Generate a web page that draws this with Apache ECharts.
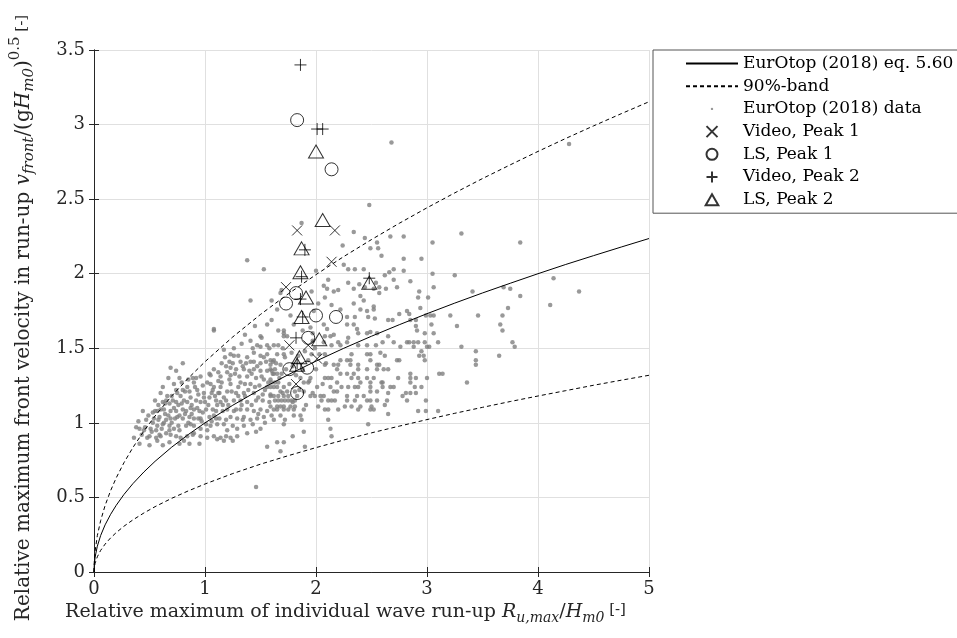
<!DOCTYPE html>
<html>
<head>
<meta charset="utf-8">
<script src="https://cdn.jsdelivr.net/npm/echarts@6/dist/echarts.min.js"></script>
<style>
html, body { margin: 0; padding: 0; background: #fff; }
#chart { width: 957px; height: 638px; }
</style>
</head>
<body>
<div id="chart"></div>
<script>
// curves (eq. 5.60 and the 90% band)
var curveX = [0, 0.002, 0.01, 0.03, 0.06, 0.1, 0.15, 0.2, 0.27, 0.35, 0.45, 0.55, 0.7, 0.85, 1,
    1.25, 1.5, 1.75, 2, 2.25, 2.5, 2.75, 3, 3.25, 3.5, 3.75, 4, 4.25, 4.5, 4.75, 5]
var eqY = [0, 0.045, 0.100, 0.173, 0.245, 0.316, 0.387, 0.447, 0.520, 0.592, 0.671, 0.742, 0.837, 0.922, 1.000,
    1.118, 1.225, 1.323, 1.414, 1.500, 1.581, 1.658, 1.732, 1.803, 1.871, 1.936, 2.000, 2.062, 2.121, 2.179, 2.236]
var bandUpY = [0, 0.063, 0.141, 0.244, 0.345, 0.446, 0.546, 0.631, 0.733, 0.834, 0.946, 1.046, 1.180, 1.300, 1.410,
    1.576, 1.727, 1.865, 1.994, 2.115, 2.229, 2.338, 2.442, 2.542, 2.638, 2.730, 2.820, 2.907, 2.991, 3.073, 3.153]
var bandLowY = [0, 0.026, 0.059, 0.102, 0.145, 0.187, 0.229, 0.264, 0.307, 0.349, 0.396, 0.438, 0.494, 0.544, 0.590,
    0.660, 0.723, 0.780, 0.834, 0.885, 0.933, 0.978, 1.022, 1.064, 1.104, 1.143, 1.180, 1.216, 1.252, 1.286, 1.319]

// EurOtop (2018) data, grey dots
var dotsLeft = [
    [1.08,1.62],[1.41,1.55],[1.47,1.52],[1.50,1.51],[1.56,1.52],[1.50,1.58],[1.17,1.49],[1.44,1.47],[1.50,1.45],[1.56,1.46],
    [1.61,1.41],[1.23,1.46],[1.26,1.45],[1.22,1.41],[1.32,1.41],[1.37,1.40],[1.41,1.41],[1.44,1.41],[1.50,1.40],[1.55,1.41],
    [1.59,1.39],[0.69,1.37],[1.08,1.36],[1.12,1.34],[1.19,1.38],[1.23,1.37],[1.28,1.36],[1.35,1.36],[1.40,1.35],[1.44,1.36],
    [1.50,1.35],[1.56,1.35],[1.61,1.33],[0.77,1.30],[0.85,1.29],[0.89,1.30],[0.96,1.31],[1.05,1.32],[1.14,1.31],[1.23,1.32],
    [1.31,1.31],[1.38,1.31],[1.46,1.30],[1.53,1.29],[1.59,1.29],[0.79,1.27],[0.90,1.27],[1.02,1.27],[1.08,1.24],[1.14,1.24],
    [1.23,1.26],[1.32,1.27],[1.41,1.26],[1.49,1.25],[1.56,1.24],[0.74,1.22],[0.86,1.21],[0.93,1.22],[0.99,1.20],[1.07,1.22],
    [1.13,1.20],[1.20,1.21],[1.28,1.20],[1.35,1.20],[1.44,1.20],[1.52,1.19],[1.59,1.19],[0.75,1.20],[0.62,1.14],[0.65,1.15],
    [0.68,1.13],[0.71,1.15],[0.74,1.14],[0.81,1.15],[0.87,1.17],[0.92,1.15],[0.96,1.14],[1.04,1.17],[1.10,1.15],[1.14,1.14],
    [1.19,1.15],[1.26,1.15],[1.32,1.15],[1.38,1.14],[1.46,1.15],[1.52,1.15],[1.58,1.14],[0.53,1.07],[0.57,1.08],[0.60,1.09],
    [0.63,1.09],[0.69,1.08],[0.74,1.08],[0.80,1.09],[0.83,1.08],[0.87,1.10],[0.90,1.09],[0.95,1.08],[1.01,1.09],[1.07,1.09],
    [1.10,1.08],[1.16,1.08],[1.20,1.09],[1.26,1.08],[1.32,1.09],[1.38,1.09],[1.44,1.08],[1.50,1.09],[1.56,1.08],[0.54,1.03],
    [0.59,1.04],[0.65,1.02],[0.69,1.03],[0.75,1.04],[0.80,1.03],[0.86,1.04],[0.90,1.03],[0.96,1.03],[1.04,1.04],[1.08,1.05],
    [1.13,1.03],[1.19,1.02],[1.23,1.04],[1.29,1.03],[1.35,1.04],[1.41,1.02],[1.47,1.03],[1.53,1.04],[0.41,0.96],[0.45,0.95],
    [0.51,0.96],[0.57,0.98],[0.62,0.99],[0.68,0.98],[0.72,0.96],[0.77,0.95],[0.83,0.98],[0.87,0.99],[0.90,0.98],[0.96,0.96],
    [1.01,0.99],[1.05,0.98],[1.11,0.99],[1.17,0.99],[1.25,0.98],[1.29,0.96],[1.35,0.98],[1.43,0.99],[1.50,0.96],[0.50,0.91],
    [0.56,0.90],[0.60,0.91],[0.65,0.93],[0.69,0.92],[0.74,0.91],[0.78,0.90],[0.84,0.91],[0.90,0.93],[0.96,0.91],[1.02,0.90],
    [1.08,0.91],[1.14,0.90],[1.19,0.91],[1.23,0.90],[1.29,0.91],[1.38,0.93],[1.46,0.94],[0.41,0.86],[0.50,0.85],[0.57,0.88],
    [0.62,0.85],[0.68,0.87],[0.77,0.86],[0.81,0.88],[0.86,0.86],[0.95,0.86],[1.11,0.89],[1.17,0.88],[1.25,0.88],[1.56,0.84],
    [1.46,0.57],
    [0.60,1.20],[0.66,1.18],[0.72,1.26],[0.78,1.18],[0.84,1.24],[0.92,1.30],[0.98,1.25],[1.04,1.33],[0.70,1.00],[0.76,1.12],
    [0.82,1.06],[0.88,1.12],[0.94,1.19],[1.00,1.14],[1.06,1.20],[1.12,1.28],[0.64,1.06],[0.58,1.12],[0.53,1.00],[0.47,1.02],
    [0.44,1.08],[0.48,0.90],[0.56,0.95],[0.38,0.97],[0.36,0.90],[0.55,1.15],[0.62,1.24],[0.67,1.30],[0.74,1.35],[0.80,1.40],
    [1.18,1.44],[1.26,1.50],[1.33,1.53],[1.22,1.29],[1.30,1.24],[1.36,1.18],[1.42,1.12],[1.48,1.06],[1.54,1.00],[1.16,1.12],
    [1.10,1.03],[1.20,0.95],[1.28,1.09],[1.34,1.02]
]
var dotsDense = [
    [0.58,1.02],[0.61,0.96],[0.64,1.13],[0.67,1.05],[0.70,1.18],[0.73,1.03],[0.76,0.98],[0.79,1.13],[0.82,1.21],[0.85,1.00],
    [0.88,1.06],[0.91,1.24],[0.93,1.10],[0.97,1.01],[0.99,1.17],[1.03,1.12],[1.05,1.26],[1.09,1.18],[1.11,1.12],[1.15,1.27],
    [1.17,1.17],[1.21,1.12],[1.24,1.21],[1.27,1.33],[1.30,1.18],[1.33,1.12],[1.36,1.26],[1.39,1.22],[1.42,1.33],[1.45,1.24],
    [1.48,1.17],[1.51,1.31],[1.54,1.22],[1.57,1.27],[1.60,1.35],[1.25,1.40],[1.30,1.45],[1.34,1.38],[1.38,1.44],[1.43,1.50],
    [1.47,1.38],[1.53,1.44],[1.58,1.50],[1.20,1.34],[1.15,1.40],[1.12,1.20],[1.06,1.01],[1.02,0.95],[0.98,1.07],[0.94,1.03],
    [0.89,0.92],[0.84,1.14],[0.80,1.22],[0.77,1.05],[0.72,1.10],[0.68,0.95],[0.63,1.00],[0.59,0.92],[0.55,1.08],[0.52,0.94],
    [0.49,1.05],[0.46,0.97],[0.43,0.92],[0.40,1.01],
    [1.64,1.40],[1.67,1.30],[1.70,1.20],[1.73,1.36],[1.76,1.26],[1.79,1.14],[1.82,1.32],[1.85,1.22],[1.88,1.36],[1.91,1.12],
    [1.94,1.28],[1.97,1.20],[2.00,1.36],[2.03,1.46],[2.06,1.26],[2.09,1.40],[1.66,1.52],[1.72,1.44],[1.79,1.38],[1.86,1.30],
    [1.93,1.42],[1.99,1.50]
]
var dotsMid = [
    [1.71,1.60],[1.97,1.60],[2.38,1.60],[2.46,1.60],[2.55,1.60],[1.71,1.58],[2.08,1.58],[2.13,1.58],[2.28,1.54],
    [2.14,1.52],[2.22,1.52],[2.38,1.52],[2.46,1.52],[2.54,1.52],
    [1.65,1.46],[1.71,1.46],[1.96,1.46],[2.08,1.46],[2.32,1.46],[2.46,1.46],[2.49,1.46],
    [1.59,1.42],[1.62,1.42],[2.22,1.42],[2.28,1.42],[2.31,1.42],[2.49,1.42],
    [1.68,1.39],[2.08,1.39],[2.16,1.39],[2.20,1.39],[2.31,1.39],[2.38,1.39],[2.55,1.39],
    [1.59,1.36],[1.63,1.36],[2.19,1.36],[2.38,1.36],[2.46,1.36],[2.55,1.36],
    [1.62,1.33],[1.65,1.33],[1.69,1.33],[2.22,1.33],[2.28,1.33],[2.34,1.33],
    [1.95,1.30],[2.08,1.30],[2.11,1.30],[2.14,1.30],[2.32,1.30],[2.38,1.30],[2.46,1.30],[2.52,1.30],
    [1.60,1.27],[1.63,1.27],[1.66,1.27],[1.89,1.27],[1.93,1.27],[2.19,1.27],[2.40,1.27],[2.49,1.27],
    [1.59,1.24],[1.62,1.24],[1.65,1.24],[1.71,1.24],[2.01,1.24],[2.13,1.24],[2.23,1.24],[2.29,1.24],[2.35,1.24],[2.38,1.24],[2.49,1.24],
    [1.68,1.21],[1.74,1.21],[1.81,1.21],[1.89,1.21],[2.16,1.21],[2.19,1.21],[2.49,1.21],[2.55,1.21],
    [1.59,1.18],[1.62,1.18],[1.66,1.18],[1.71,1.18],[1.75,1.18],[1.83,1.18],[1.95,1.18],[1.99,1.18],[2.04,1.18],[2.07,1.18],[2.28,1.18],[2.37,1.18],[2.43,1.18],
    [1.63,1.15],[1.66,1.15],[1.69,1.15],[1.72,1.15],[1.75,1.15],[1.78,1.15],[1.81,1.15],[2.05,1.15],[2.11,1.15],[2.14,1.15],[2.17,1.15],[2.28,1.15],[2.35,1.15],[2.46,1.15],[2.49,1.15],[2.55,1.15],
    [1.59,1.11],[1.65,1.11],[1.68,1.11],[1.71,1.11],[1.77,1.11],[1.81,1.11],[2.02,1.11],[2.26,1.11],[2.32,1.11],[2.40,1.11],[2.50,1.11],
    [1.62,1.09],[1.65,1.09],[1.71,1.09],[1.75,1.09],[1.80,1.09],[1.89,1.09],[2.08,1.09],[2.11,1.09],[2.20,1.09],[2.38,1.09],[2.49,1.09],[2.52,1.09],
    [1.60,1.05],[1.68,1.05],[1.80,1.05],[1.86,1.05],[1.62,1.02],[1.72,1.02],[1.87,1.02],[2.11,1.02],
    [1.71,0.99],[2.47,0.99],[2.13,0.96],[1.89,0.94],[1.79,0.91],[2.14,0.91],[1.65,0.87],[1.71,0.87],[1.90,0.84],[1.68,0.81]
]
var dotsUpper = [
    [1.38,2.09],[1.53,2.03],[1.41,1.82],[1.08,1.63],[2.34,2.28],[2.44,2.24],[2.55,2.21],[2.24,2.19],[2.25,2.06],[2.11,1.96],
    [2.07,1.92],[2.20,1.89],[2.29,2.03],[2.35,2.03],[2.39,1.93],[2.44,1.91],[2.54,1.94],[1.60,1.82],[1.65,1.76],[1.69,1.89],
    [1.56,1.66],[1.60,1.69],[1.51,1.57],[1.45,1.65],[1.36,1.59],[2.14,1.79],[2.22,1.76],[2.34,1.80],[2.40,1.76],[2.46,1.75],
    [2.52,1.78],[2.47,1.71],[2.53,1.70],[2.28,1.71],[2.35,1.71],[2.28,1.66],[2.34,1.66],[2.37,1.63],[2.49,1.61],[2.29,1.57],
    [2.07,1.66],[2.10,1.63],[2.16,1.59],[2.20,1.54],[2.07,1.54],[1.77,1.72],[1.71,1.62],[1.87,2.34],[2.49,2.17],[2.43,2.03],
    [2.29,1.94],[2.34,1.90],[1.68,1.87],[2.10,1.90],[2.08,1.84],[2.16,1.88],[2.52,1.90],[2.40,1.85],[2.43,1.82],[2.52,1.76],
    [1.66,1.62],[1.74,1.58],[1.80,1.66],[1.95,1.64],[1.98,1.75],[2.02,1.80],[1.90,1.48],[1.97,1.55],[1.62,1.52],[1.70,1.50],
    [1.78,1.47],[1.84,1.45],[1.88,1.62],[1.96,1.88],[2.00,2.02],[2.48,2.46],[2.56,2.17]
]
var dotsRight = [
    [2.67,2.25],[2.79,2.25],[3.31,2.27],[3.05,2.21],[3.84,2.21],[2.59,2.12],[2.79,2.10],[2.95,2.10],[2.79,2.02],[2.70,2.03],
    [2.62,1.99],[2.66,2.01],[2.70,1.96],[3.05,2.00],[3.25,1.99],[2.85,1.95],[2.73,1.91],[2.57,1.91],[2.63,1.90],[3.06,1.91],
    [2.57,1.87],[2.93,1.88],[3.41,1.88],[4.14,1.97],[4.37,1.88],[3.69,1.91],[3.75,1.90],[2.92,1.84],[3.01,1.84],[3.84,1.85],
    [2.94,1.77],[4.11,1.79],[3.73,1.77],[2.82,1.75],[2.84,1.73],[2.75,1.73],[2.99,1.72],[3.03,1.72],[3.06,1.72],[3.21,1.72],
    [3.46,1.72],[3.68,1.72],[2.65,1.69],[2.69,1.69],[2.85,1.69],[2.90,1.69],[2.90,1.65],[3.04,1.66],[3.27,1.65],[3.66,1.66],
    [2.91,1.62],[3.68,1.62],[2.98,1.60],[3.06,1.60],[2.65,1.58],[2.60,1.54],[2.70,1.54],[2.82,1.54],[2.84,1.54],[2.88,1.54],
    [2.92,1.54],[2.98,1.54],[3.10,1.54],[3.77,1.54],[2.76,1.51],[2.88,1.51],[3.00,1.51],[3.02,1.51],[3.31,1.51],[3.79,1.51],
    [2.58,1.47],[2.62,1.45],[2.95,1.48],[2.93,1.45],[2.97,1.45],[3.44,1.48],[3.65,1.45],[2.73,1.42],[2.75,1.42],[2.98,1.42],
    [3.44,1.42],[3.44,1.39],[2.57,1.39],[2.61,1.36],[2.65,1.36],[3.11,1.33],[3.14,1.33],[2.85,1.33],[2.85,1.30],[2.74,1.30],
    [2.90,1.30],[3.00,1.30],[3.36,1.27],[2.59,1.27],[2.60,1.27],[2.85,1.27],[2.60,1.24],[2.67,1.24],[2.70,1.24],[2.89,1.24],
    [2.95,1.24],[2.65,1.20],[2.81,1.20],[2.85,1.20],[2.90,1.20],[2.78,1.18],[2.64,1.15],[2.82,1.15],[2.99,1.15],[2.62,1.12],
    [2.92,1.08],[2.99,1.08],[3.10,1.08],[2.65,1.06],[2.68,2.88],[4.28,2.87]
]

// measurements
var videoPeak1 = [[1.83,2.29],[2.17,2.29],[2.14,2.08],[1.73,1.91],[1.76,1.52],[1.93,1.52],[2.01,1.43],[1.82,1.26]]
var lsPeak1 = [[1.83,3.03],[2.14,2.70],[1.82,1.87],[1.73,1.80],[2.00,1.72],[2.18,1.71],[1.93,1.57],[1.76,1.36],[1.92,1.37],[1.83,1.20]]
var videoPeak2 = [[1.86,3.40],[2.01,2.97],[2.06,2.97],[1.90,2.16],[1.87,1.98],[1.86,1.83],[1.88,1.71],[1.82,1.57],[1.83,1.40],[2.48,1.97]]
var lsPeak2 = [[2.00,2.82],[2.06,2.36],[1.87,2.17],[1.86,2.01],[1.91,1.84],[1.87,1.71],[2.03,1.56],[1.85,1.44],[1.83,1.39],[2.48,1.94]]

var xTicks = [0, 1, 2, 3, 4, 5]
var yTicks = [0, 0.5, 1, 1.5, 2, 2.5, 3, 3.5]

var serif = 'DejaVu Serif'
var ink = '#262626'

function zip (xs, ys) {
    return xs.map(function (x, i) { return [x, ys[i]] })
}

var crossPath = 'path://M0,0L10,10M10,0L0,10'
var plusPath = 'path://M5,0L5,10M0,5L10,5'
var trianglePath = 'path://M5,0L10,8.7L0,8.7Z'
var dotIcon = 'path://M0,0L0,0M20,20L20,20M7.8,10a2.2,2.2 0 1,0 4.4,0a2.2,2.2 0 1,0 -4.4,0Z'

var myChart = echarts.init(document.getElementById('chart'))

var subStyle = { fontFamily: serif, fontStyle: 'italic', fontSize: 14, padding: [11, 0, 0, 0] }
var option = {
    backgroundColor: '#fff',
    animation: false,
    grid: {
        left: 94,
        right: 308,
        top: 50,
        bottom: 66,
        outerBoundsMode: 'none'
    },
    legend: {
        orient: 'vertical',
        left: 653,
        top: 50,
        padding: [5, 120, 5, 32],
        itemWidth: 52,
        itemHeight: 11,
        itemGap: 5.7,
        align: 'left',
        backgroundColor: '#fff',
        borderColor: '#555',
        borderWidth: 1,
        borderRadius: 0,
        textStyle: { fontFamily: serif, fontSize: 17, color: '#000' },
        data: [
            { name: 'EurOtop (2018) eq. 5.60', itemStyle: { opacity: 0 } },
            { name: '90%-band', itemStyle: { opacity: 0 } },
            { name: 'EurOtop (2018) data', icon: dotIcon },
            { name: 'Video, Peak 1' },
            { name: 'LS, Peak 1' },
            { name: 'Video, Peak 2' },
            { name: 'LS, Peak 2', icon: trianglePath }
        ]
    },
    xAxis: [{
        type: 'value',
        min: xTicks[0],
        max: xTicks[xTicks.length - 1],
        interval: 1,
        position: 'bottom',
        name: 'Relative maximum of individual wave run-up {i|R}{sub|u,max}{n|/}{i|H}{sub|m0}{s| [-]}',
        nameLocation: 'middle',
        nameGap: 28,
        nameTextStyle: {
            fontFamily: serif,
            fontSize: 19,
            color: ink,
            padding: [0, 52, 0, 0],
            rich: {
                n: { fontFamily: serif, fontSize: 19 },
                i: { fontFamily: serif, fontSize: 19, fontStyle: 'italic' },
                sub: subStyle,
                s: { fontFamily: serif, fontSize: 15, padding: [0, 0, 4, 0] }
            }
        },
        axisLine: { show: true, lineStyle: { color: ink, width: 1 } },
        axisTick: { show: true, inside: true, length: 5, lineStyle: { color: ink } },
        axisLabel: { fontFamily: serif, fontSize: 18, color: ink, margin: 8 },
        splitLine: { show: true, lineStyle: { color: '#e0e0e0', width: 1 } }
    }, {
        type: 'value',
        min: xTicks[0],
        max: xTicks[xTicks.length - 1],
        interval: 1,
        position: 'top',
        axisLine: { show: true, lineStyle: { color: ink, width: 1 } },
        axisTick: { show: true, inside: true, length: 5, lineStyle: { color: ink } },
        axisLabel: { show: false },
        splitLine: { show: false }
    }],
    yAxis: [{
        type: 'value',
        min: yTicks[0],
        max: yTicks[yTicks.length - 1],
        interval: 0.5,
        position: 'left',
        name: 'Relative maximum front velocity in run-up {i|v}{sub|front}{n|/(g}{i|H}{sub|m0}{n|)}{sup|0.5}{s| [-]}',
        nameLocation: 'middle',
        nameRotate: 90,
        nameGap: 54,
        nameTextStyle: {
            fontFamily: serif,
            fontSize: 20,
            color: ink,
            padding: [0, 14, 0, 0],
            rich: {
                n: { fontFamily: serif, fontSize: 20 },
                i: { fontFamily: serif, fontSize: 20, fontStyle: 'italic' },
                sub: { fontFamily: serif, fontStyle: 'italic', fontSize: 15, padding: [11, 0, 0, 0] },
                sup: { fontFamily: serif, fontSize: 15, padding: [0, 0, 17, 0] },
                s: { fontFamily: serif, fontSize: 15, padding: [0, 0, 4, 0] }
            }
        },
        axisLine: { show: true, lineStyle: { color: ink, width: 1 } },
        axisTick: { show: true, inside: true, length: 5, lineStyle: { color: ink } },
        axisLabel: { fontFamily: serif, fontSize: 18, color: ink, margin: 9 },
        splitLine: { show: true, lineStyle: { color: '#e0e0e0', width: 1 } }
    }, {
        type: 'value',
        min: yTicks[0],
        max: yTicks[yTicks.length - 1],
        interval: 0.5,
        position: 'right',
        axisLine: { show: true, lineStyle: { color: ink, width: 1 } },
        axisTick: { show: true, inside: true, length: 5, lineStyle: { color: ink } },
        axisLabel: { show: false },
        splitLine: { show: false }
    }],
    series: [{
        name: 'EurOtop (2018) data',
        type: 'scatter',
        symbol: 'circle',
        symbolSize: 4.5,
        itemStyle: { color: '#808080' },
        z: 2,
        data: dotsLeft.concat(dotsDense, dotsMid, dotsUpper, dotsRight)
    }, {
        name: 'EurOtop (2018) eq. 5.60',
        type: 'line',
        symbol: 'none',
        lineStyle: { color: '#000', width: 1 },
        z: 3,
        data: zip(curveX, eqY)
    }, {
        name: '90%-band',
        type: 'line',
        symbol: 'none',
        lineStyle: { color: '#000', width: 1, type: [4, 3] },
        z: 3,
        data: zip(curveX, bandUpY)
    }, {
        name: '90%-band',
        type: 'line',
        symbol: 'none',
        lineStyle: { color: '#000', width: 1, type: [4, 3] },
        z: 3,
        data: zip(curveX, bandLowY)
    }, {
        name: 'Video, Peak 1',
        type: 'scatter',
        symbol: crossPath,
        symbolSize: 10,
        symbolKeepAspect: true,
        itemStyle: { color: 'none', borderColor: '#000', borderWidth: 1 },
        z: 4,
        data: videoPeak1
    }, {
        name: 'LS, Peak 1',
        type: 'scatter',
        symbol: 'circle',
        symbolSize: 13,
        itemStyle: { color: 'none', borderColor: '#000', borderWidth: 1 },
        z: 4,
        data: lsPeak1
    }, {
        name: 'Video, Peak 2',
        type: 'scatter',
        symbol: plusPath,
        symbolSize: 12,
        symbolKeepAspect: true,
        itemStyle: { color: 'none', borderColor: '#000', borderWidth: 1 },
        z: 4,
        data: videoPeak2
    }, {
        name: 'LS, Peak 2',
        type: 'scatter',
        symbol: trianglePath,
        symbolSize: [15, 13],
        itemStyle: { color: 'none', borderColor: '#000', borderWidth: 1 },
        z: 4,
        data: lsPeak2
    }]
}
myChart.setOption(option)
</script>
</body>
</html>
